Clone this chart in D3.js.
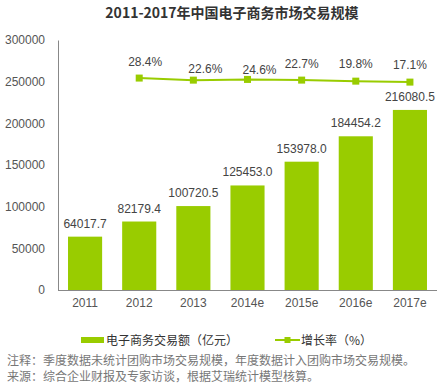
<!DOCTYPE html>
<html><head><meta charset="utf-8">
<script src="https://cdn.jsdelivr.net/npm/d3@7"></script>
<style>
body{margin:0;background:#fff;}
svg{display:block;}
</style></head>
<body>
<script>
const categories = ["2011","2012","2013","2014e","2015e","2016e","2017e"];
const volume = [64017.7, 82179.4, 100720.5, 125453.0, 153978.0, 184454.2, 216080.5];
const rateYears = ["2012","2013","2014e","2015e","2016e","2017e"];
const growthRate = [28.4, 22.6, 24.6, 22.7, 19.8, 17.1];
const yTicks = [0, 50000, 100000, 150000, 200000, 250000, 300000];
const title = "2011-2017年中国电子商务市场交易规模";
const legendLabels = ["电子商务交易额（亿元）", "增长率（%）"];
const notes = ["注释：季度数据未统计团购市场交易规模，年度数据计入团购市场交易规模。",
               "来源：综合企业财报及专家访谈，根据艾瑞统计模型核算。"];
// label nudges (style) for the growth-rate labels
const rateLabelNudge = [[6,-16],[12,-11],[12,-9],[0,-16],[0,-17],[0,-17]];

const W = 443, H = 391;
const green = "#99cc00";
const latin = "'Liberation Sans', Arial, sans-serif";
const cjk = "'Noto Sans CJK SC', 'Liberation Sans', sans-serif";

const svg = d3.select("body").append("svg").attr("width", W).attr("height", H);

const mLeft = 58, mRight = 437, mTop = 40, mBottom = 290;

const x = d3.scaleBand().domain(categories).range([mLeft, mRight])
  .paddingInner(0.37).paddingOuter(0.185);
const y = d3.scaleLinear().domain([0, 300000]).range([mBottom, mTop]);
const yr = d3.scaleLinear().domain([-565, 135]).range([mBottom, mTop]);

// title
svg.append("text").attr("x", 232).attr("y", 18).attr("text-anchor", "middle")
  .attr("font-family", cjk).attr("font-size", 14).attr("font-weight", "bold")
  .attr("fill", "#333").text(title);

// y axis
const yAxis = svg.append("g").attr("transform", `translate(${mLeft},0)`)
  .call(d3.axisLeft(y).tickValues(yTicks).tickSize(0).tickPadding(13).tickFormat(d3.format("d")));
yAxis.select(".domain").attr("stroke", "#888");
yAxis.selectAll("text").attr("font-family", latin).attr("font-size", 12).attr("fill", "#555");

// x axis
const xAxis = svg.append("g").attr("transform", `translate(0,${mBottom})`)
  .call(d3.axisBottom(x).tickSize(0).tickPadding(8));
xAxis.select(".domain").attr("stroke", "#888").attr("d", `M${mLeft},0.5H${mRight}`);
xAxis.selectAll("text").attr("font-family", latin).attr("font-size", 12).attr("fill", "#555");

// bars
svg.append("g").selectAll("rect").data(volume).join("rect")
  .attr("x", (d, i) => x(categories[i]))
  .attr("y", d => y(d))
  .attr("width", x.bandwidth())
  .attr("height", d => mBottom - y(d))
  .attr("fill", green);

svg.append("g").selectAll("text").data(volume).join("text")
  .attr("x", (d, i) => x(categories[i]) + x.bandwidth() / 2)
  .attr("y", d => y(d) - 9)
  .attr("text-anchor", "middle")
  .attr("font-family", latin).attr("font-size", 12).attr("fill", "#444")
  .text(d => d.toFixed(1));

// line
const cx = (i) => x(rateYears[i]) + x.bandwidth() / 2;
const line = d3.line().x((d, i) => cx(i)).y(d => yr(d));
svg.append("path").datum(growthRate).attr("d", line)
  .attr("fill", "none").attr("stroke", green).attr("stroke-width", 2);
svg.append("g").selectAll("rect").data(growthRate).join("rect")
  .attr("x", (d, i) => cx(i) - 3.5).attr("y", d => yr(d) - 3.5)
  .attr("width", 7).attr("height", 7).attr("fill", green);
svg.append("g").selectAll("text").data(growthRate).join("text")
  .attr("x", (d, i) => cx(i) + rateLabelNudge[i][0])
  .attr("y", (d, i) => yr(d) + rateLabelNudge[i][1] + 4)
  .attr("text-anchor", "middle")
  .attr("font-family", latin).attr("font-size", 12).attr("fill", "#444")
  .text(d => d.toFixed(1) + "%");

// legend
const lg = svg.append("g");
lg.append("rect").attr("x", 81).attr("y", 337).attr("width", 23).attr("height", 6).attr("fill", green);
lg.append("text").attr("x", 106).attr("y", 344.5).attr("font-family", cjk).attr("font-size", 12)
  .attr("fill", "#333").text(legendLabels[0]);
lg.append("line").attr("x1", 275).attr("x2", 300).attr("y1", 340).attr("y2", 340)
  .attr("stroke", green).attr("stroke-width", 2);
lg.append("rect").attr("x", 284.5).attr("y", 337).attr("width", 6).attr("height", 6).attr("fill", green);
lg.append("text").attr("x", 301).attr("y", 344.5).attr("font-family", cjk).attr("font-size", 12)
  .attr("fill", "#333").text(legendLabels[1]);

// notes
svg.append("g").selectAll("text").data(notes).join("text")
  .attr("x", 7).attr("y", (d, i) => 365 + i * 16)
  .attr("font-family", cjk).attr("font-size", 12).attr("fill", "#777")
  .text(d => d);
</script>
</body></html>
